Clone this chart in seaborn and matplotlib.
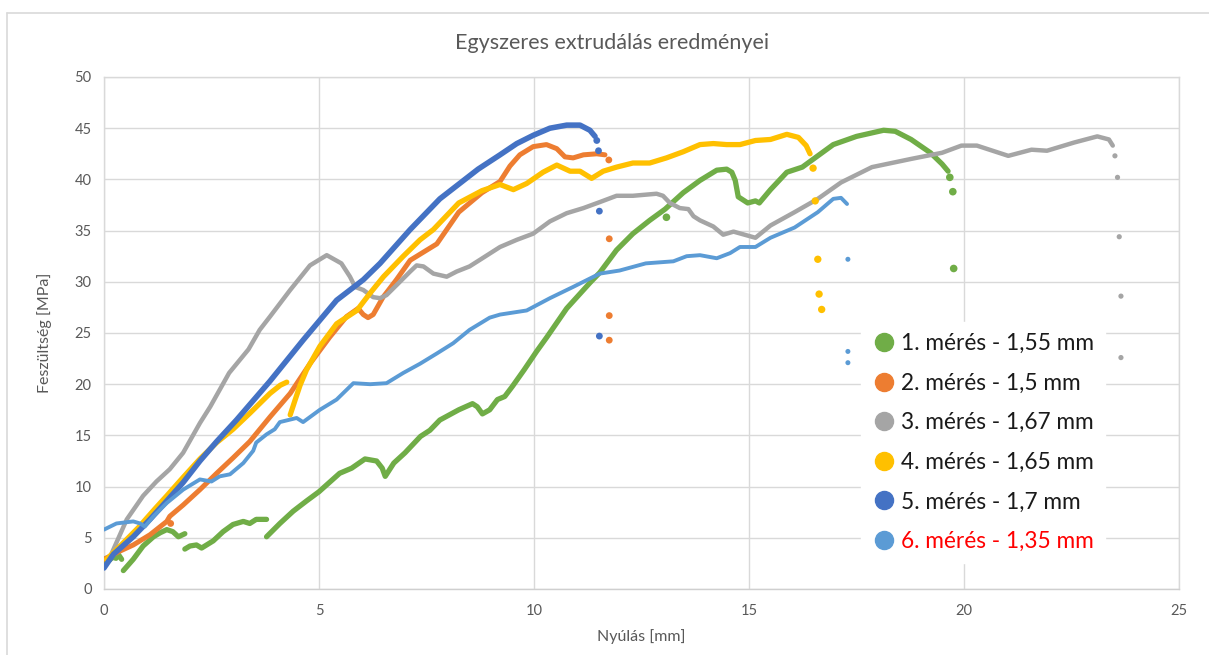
import numpy as np
import pandas as pd
import matplotlib
matplotlib.use("Agg")
import matplotlib.pyplot as plt
from matplotlib.lines import Line2D
import seaborn as sns

# ---------------- data ----------------
title = "Egyszeres extrudálás eredményei"
xlabel = "Nyúlás [mm]"
ylabel = "Feszültség [MPa]"
labels = ["1. mérés - 1,55 mm", "2. mérés - 1,5 mm", "3. mérés - 1,67 mm",
          "4. mérés - 1,65 mm", "5. mérés - 1,7 mm", "6. mérés - 1,35 mm"]
colors = ["#70AD47", "#ED7D31", "#A5A5A5", "#FFC000", "#4472C4", "#5B9BD5"]
x_ticks = [0, 5, 10, 15, 20, 25]
y_ticks = [0, 5, 10, 15, 20, 25, 30, 35, 40, 45, 50]

# 1. mérés (green) - several segments
green_x1 = [0.0, 0.05, 0.12, 0.2, 0.28, 0.33, 0.41]
green_y1 = [2.6, 3.0, 2.8, 3.1, 3.0, 3.4, 2.9]
green_x2 = [0.45, 0.68, 0.91, 1.15, 1.31, 1.46, 1.6, 1.73, 1.88]
green_y2 = [1.8, 2.9, 4.2, 5.1, 5.5, 5.8, 5.6, 5.1, 5.4]
green_x3 = [1.88, 2.0, 2.15, 2.27, 2.54, 2.77, 3.0, 3.24, 3.39, 3.54, 3.78]
green_y3 = [3.9, 4.2, 4.3, 4.0, 4.7, 5.6, 6.3, 6.6, 6.4, 6.8, 6.8]
green_x4 = [3.78, 4.09, 4.4, 4.71, 5.0, 5.48, 5.76, 6.07, 6.34, 6.47, 6.54, 6.74,
            7.0, 7.36, 7.58, 7.81, 8.25, 8.57, 8.68, 8.8, 8.97, 9.15, 9.32, 9.5,
            9.77, 10.06, 10.3, 10.76, 11.3, 11.53, 11.92, 12.3, 12.69, 13.05,
            13.47, 13.86, 14.25, 14.48, 14.6, 14.68, 14.75, 14.97, 15.15, 15.24,
            15.5, 15.88, 16.24, 16.6, 16.96, 17.5, 18.13, 18.4, 18.77, 19.22,
            19.49, 19.63]
green_y4 = [5.1, 6.4, 7.6, 8.6, 9.5, 11.3, 11.8, 12.7, 12.5, 11.8, 11.0, 12.3,
            13.3, 14.9, 15.5, 16.5, 17.5, 18.1, 17.8, 17.1, 17.5, 18.5, 18.8, 19.8,
            21.4, 23.2, 24.6, 27.4, 29.9, 30.9, 33.1, 34.7, 36.0, 37.1,
            38.7, 39.9, 40.9, 41.0, 40.7, 39.9, 38.3, 37.7, 37.9, 37.7,
            39.0, 40.7, 41.2, 42.3, 43.4, 44.2, 44.8, 44.7, 43.9, 42.6,
            41.5, 40.8]
green_dots_x = [13.08, 19.67, 19.74, 19.76]
green_dots_y = [36.3, 40.2, 38.8, 31.3]

# 2. mérés (orange)
orange_x = [0.0, 0.37, 0.68, 1.07, 1.46, 1.53, 1.84, 2.23, 2.62, 3.0, 3.39, 3.86,
            4.33, 4.79, 5.25, 5.64, 5.91, 6.03, 6.14, 6.26, 6.49, 6.8, 7.12, 7.43,
            7.74, 8.25, 8.79, 9.21, 9.44, 9.67, 9.98, 10.29, 10.53, 10.72, 10.91,
            11.15, 11.46, 11.65]
orange_y = [2.9, 3.7, 4.3, 5.3, 6.6, 7.1, 8.2, 9.7, 11.3, 12.8, 14.4, 16.8,
            19.1, 22.0, 24.6, 26.6, 27.4, 26.8, 26.5, 26.8, 28.5, 30.2, 32.1, 32.9,
            33.7, 36.8, 38.7, 39.8, 41.3, 42.4, 43.2, 43.4, 43.0, 42.2, 42.1,
            42.4, 42.5, 42.4]
orange_dots_x = [1.55, 11.74, 11.75, 11.75, 11.75]
orange_dots_y = [6.4, 41.9, 34.2, 26.7, 24.3]

# 3. mérés (gray)
gray_x = [0.18, 0.53, 0.91, 1.22, 1.53, 1.84, 2.23, 2.47, 2.91, 3.36, 3.62, 3.86,
          4.33, 4.79, 5.18, 5.52, 5.72, 5.84, 6.03, 6.26, 6.42, 6.57, 6.81, 7.12,
          7.27, 7.43, 7.66, 7.97, 8.2, 8.5, 8.8, 9.21, 9.6, 9.98, 10.37, 10.76,
          11.15, 11.54, 11.92, 12.3, 12.85, 13.0, 13.16, 13.39, 13.59, 13.71,
          13.86, 14.17, 14.4, 14.64, 15.15, 15.5, 16.06, 16.6, 17.14, 17.86,
          18.77, 19.49, 19.94, 20.3, 21.03, 21.57, 21.93, 22.56, 23.1, 23.37, 23.46]
gray_y = [3.5, 6.8, 9.1, 10.5, 11.7, 13.3, 16.2, 17.8, 21.1, 23.4, 25.3, 26.6,
          29.2, 31.6, 32.6, 31.8, 30.5, 29.5, 29.2, 28.5, 28.4, 28.7, 29.7, 31.0,
          31.6, 31.5, 30.8, 30.5, 31.0, 31.5, 32.3, 33.4, 34.1, 34.7, 35.9, 36.7,
          37.2, 37.8, 38.4, 38.4, 38.6, 38.4, 37.7, 37.2, 37.1, 36.4,
          36.0, 35.4, 34.6, 34.9, 34.3, 35.5, 36.8, 38.1, 39.7, 41.2,
          42.0, 42.6, 43.3, 43.3, 42.3, 42.9, 42.8, 43.6, 44.2, 43.9, 43.3]
gray_dots_x = [23.51, 23.57, 23.61, 23.65, 23.65]
gray_dots_y = [42.3, 40.2, 34.4, 28.6, 22.6]

# 4. mérés (yellow) - two segments
yellow_x1 = [0.06, 0.4, 0.8, 1.2, 1.46, 1.84, 2.23, 2.62, 3.0, 3.4, 3.86, 4.1, 4.25]
yellow_y1 = [2.9, 4.3, 6.0, 7.9, 9.1, 10.9, 12.7, 14.3, 15.6, 17.2, 19.1, 19.9, 20.2]
yellow_x2 = [4.33, 4.44, 4.56, 4.71, 5.02, 5.41, 5.88, 6.19, 6.5, 6.96, 7.35, 7.66,
             8.25, 8.79, 9.21, 9.52, 9.83, 10.21, 10.53, 10.84, 11.07, 11.34, 11.61,
             11.92, 12.3, 12.69, 13.08, 13.47, 13.86, 14.17, 14.48, 14.79, 15.15,
             15.5, 15.88, 16.15, 16.33, 16.42]
yellow_y2 = [17.0, 18.4, 19.9, 21.4, 23.7, 25.9, 27.2, 28.9, 30.5, 32.5, 34.1, 35.1,
             37.7, 38.9, 39.5, 39.0, 39.6, 40.7, 41.4, 40.8, 40.8, 40.1, 40.8,
             41.2, 41.6, 41.6, 42.1, 42.7, 43.4, 43.5, 43.4, 43.4, 43.8,
             43.9, 44.4, 44.1, 43.3, 42.5]
yellow_dots_x = [16.49, 16.54, 16.6, 16.63, 16.69]
yellow_dots_y = [41.1, 37.9, 32.2, 28.8, 27.3]

# 5. mérés (blue)
blue_x = [0.0, 0.22, 0.68, 1.07, 1.46, 1.84, 2.23, 2.62, 3.08, 3.86, 4.63, 5.41,
          6.03, 6.42, 7.12, 7.81, 8.7, 9.21, 9.6, 9.98, 10.37, 10.76, 11.07, 11.3, 11.42]
blue_y = [2.05, 3.4, 5.1, 6.8, 8.6, 10.4, 12.5, 14.4, 16.5, 20.3, 24.3, 28.2,
          30.2, 31.8, 35.1, 38.1, 41.0, 42.4, 43.5, 44.3, 45.0, 45.3, 45.3, 44.8, 44.2]
blue_dots_x = [11.46, 11.5, 11.52, 11.52]
blue_dots_y = [43.8, 42.8, 36.9, 24.7]

# 6. mérés (light blue)
lblue_x = [0.0, 0.29, 0.68, 0.84, 0.95, 1.15, 1.46, 1.84, 2.23, 2.5, 2.69, 2.93,
           3.24, 3.47, 3.54, 3.78, 3.97, 4.09, 4.48, 4.63, 5.02, 5.41, 5.8, 6.19,
           6.57, 6.96, 7.35, 7.74, 8.12, 8.5, 8.97, 9.21, 9.83, 10.37, 10.91, 11.53,
           11.99, 12.6, 13.24, 13.55, 13.86, 14.25, 14.56, 14.79, 15.15, 15.5,
           16.06, 16.6, 16.96, 17.14, 17.28]
lblue_y = [5.8, 6.4, 6.6, 6.4, 6.1, 7.1, 8.4, 9.7, 10.7, 10.5, 11.0, 11.2,
           12.3, 13.5, 14.3, 15.1, 15.6, 16.3, 16.7, 16.3, 17.5, 18.5, 20.1, 20.0,
           20.1, 21.1, 22.0, 23.0, 24.0, 25.3, 26.5, 26.8, 27.2, 28.4, 29.5, 30.8,
           31.1, 31.8, 32.0, 32.5, 32.6, 32.3, 32.8, 33.4, 33.4, 34.3,
           35.3, 36.8, 38.1, 38.2, 37.6]
lblue_dots_x = [17.3, 17.3, 17.3]
lblue_dots_y = [32.2, 23.2, 22.1]

# ---------------- build tables ----------------
def seg_frame(segments):
    rows = []
    for i, (xs, ys) in enumerate(segments):
        rows.append(pd.DataFrame({"x": xs, "y": ys, "seg": i}))
    return pd.concat(rows, ignore_index=True)

series = [
    (seg_frame([(green_x1, green_y1), (green_x2, green_y2), (green_x3, green_y3),
                (green_x4, green_y4)]), green_dots_x, green_dots_y, 3.8, 30),
    (seg_frame([(orange_x, orange_y)]), orange_dots_x, orange_dots_y, 3.6, 24),
    (seg_frame([(gray_x, gray_y)]), gray_dots_x, gray_dots_y, 3.2, 14),
    (seg_frame([(yellow_x1, yellow_y1), (yellow_x2, yellow_y2)]),
     yellow_dots_x, yellow_dots_y, 3.8, 28),
    (seg_frame([(blue_x, blue_y)]), blue_dots_x, blue_dots_y, 4.0, 24),
    (seg_frame([(lblue_x, lblue_y)]), lblue_dots_x, lblue_dots_y, 2.8, 13),
]

# ---------------- plot ----------------
sns.set_theme(style="white")
plt.rcParams["font.family"] = ["Lato", "DejaVu Sans"]

fig = plt.figure(figsize=(12.09, 6.55), dpi=100)
ax = fig.add_axes([104 / 1209, 1 - 589 / 655, (1179 - 104) / 1209, (589 - 77) / 655])

grid_c = "#D9D9D9"
text_c = "#595959"

for i, (df, dx, dy, lw, s) in enumerate(series):
    sns.lineplot(data=df, x="x", y="y", units="seg", estimator=None, sort=False,
                 color=colors[i], linewidth=lw, solid_capstyle="round",
                 solid_joinstyle="round", legend=False, ax=ax, zorder=3 + i)
    sns.scatterplot(x=dx, y=dy, color=colors[i], s=s, edgecolor="none",
                    legend=False, ax=ax, zorder=3 + i)

ax.set_xlim(0, 25)
ax.set_ylim(0, 50)
ax.set_xticks(x_ticks)
ax.set_yticks(y_ticks)
ax.grid(True, color=grid_c, linewidth=1.0, zorder=0)
ax.set_axisbelow(True)
for sp in ax.spines.values():
    sp.set_color(grid_c)
    sp.set_linewidth(1.0)
ax.spines["bottom"].set_color("#CFCFCF")
ax.tick_params(axis="both", length=0, labelsize=10.5, labelcolor=text_c, pad=9)
ax.tick_params(axis="x", pad=11)
ax.set_xlabel(xlabel, fontsize=11.5, color=text_c, labelpad=8)
ax.set_ylabel(ylabel, fontsize=11.5, color=text_c, labelpad=16)
fig.text(612 / 1209, 1 - 43 / 655, title, ha="center", va="center",
         fontsize=15.5, color=text_c)

handles = [Line2D([], [], marker="o", linestyle="", color=c, markersize=13)
           for c in colors]
leg = ax.legend(handles, labels, loc="center", bbox_to_anchor=(0.818, 0.286),
                frameon=True, facecolor="white", edgecolor="white", framealpha=1,
                fancybox=False, fontsize=16.3, handletextpad=0.24,
                handlelength=1.0, labelspacing=0.82, borderpad=0.5)
leg.set_zorder(20)
for t in leg.get_texts():
    t.set_color("#1A1A1A")
leg.get_texts()[5].set_color("#FF0000")

# outer chart border
fig.add_artist(Line2D([7 / 1209, 1.0], [1 - 13 / 655, 1 - 13 / 655],
                      transform=fig.transFigure, color=grid_c, linewidth=1.2))
fig.add_artist(Line2D([7 / 1209, 7 / 1209], [0.0, 1 - 13 / 655],
                      transform=fig.transFigure, color=grid_c, linewidth=1.2))

fig.savefig("out.png", dpi=100)
